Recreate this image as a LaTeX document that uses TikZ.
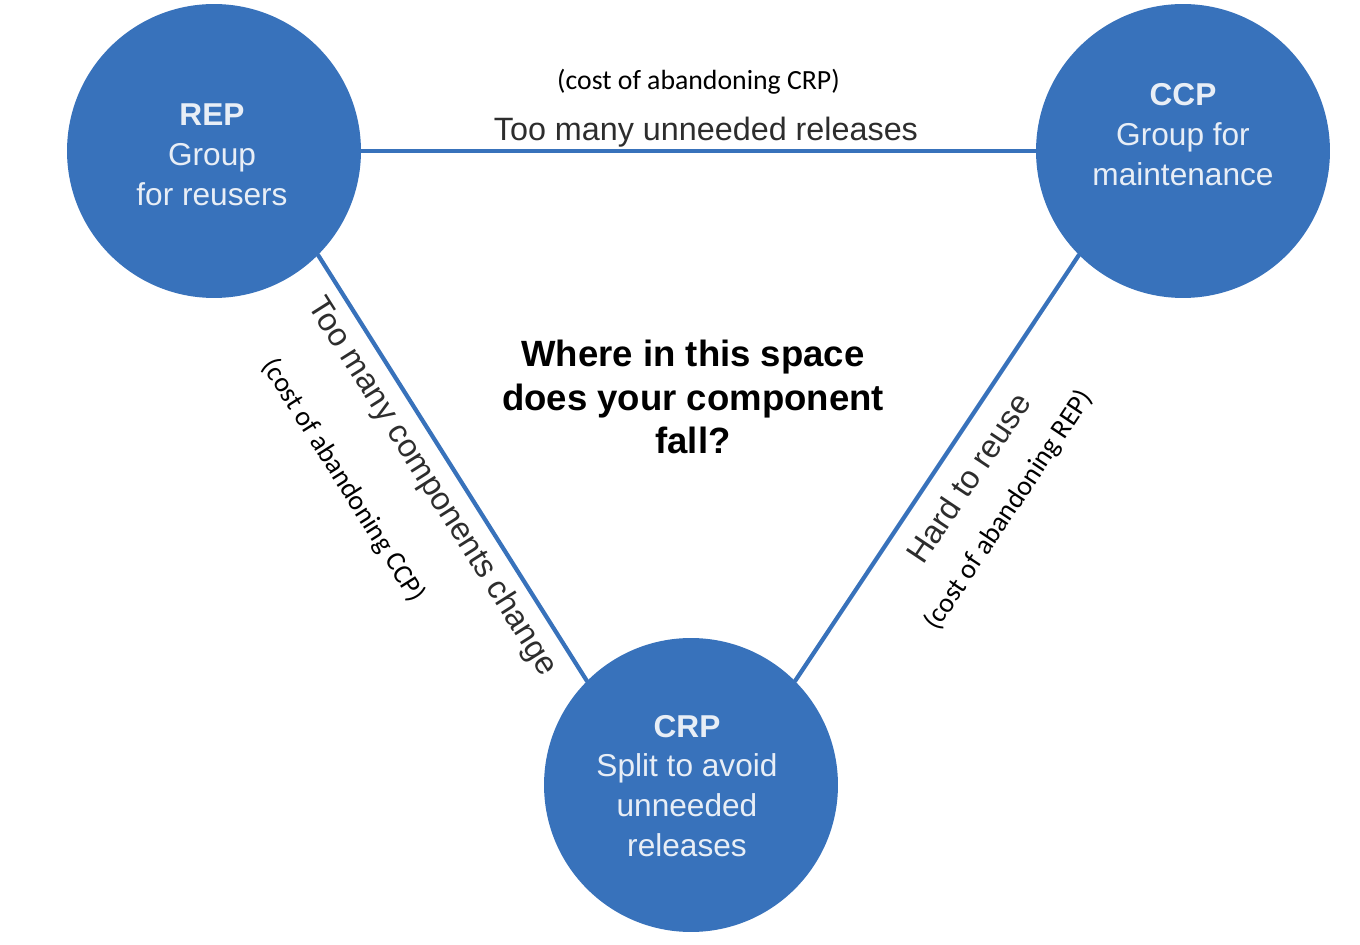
\documentclass[tikz,border=0pt]{standalone}
\usepackage{fontspec}
\setmainfont{Liberation Sans}
\newfontfamily\calfont{Carlito}
\usepackage{tikz}
\usetikzlibrary{calc, positioning}
\definecolor{circblue}{RGB}{56,114,187}
\definecolor{paletext}{RGB}{232,238,246}
\definecolor{darktext}{RGB}{45,45,45}

\begin{document}
\begin{tikzpicture}[x=0.02cm, y=0.02cm, line cap=round, line join=round,
	principle/.style={circle, fill=circblue, minimum size=5.88cm, inner sep=0pt},
	intext/.style={text=paletext, align=center, inner sep=0pt, font=\fontsize{18}{22.7}\selectfont},
	edge/.style={draw=circblue, line width=2.4pt},
	edgetext/.style={text=darktext, inner sep=0pt, font=\fontsize{18.4}{22}\selectfont},
	costtext/.style={inner sep=0pt, font=\calfont\fontsize{15.8}{19}\selectfont}]
	\useasboundingbox (0,0) rectangle (1360,944);

	% the three principles
	\node[principle] (REP) at (214,793) {};
	\node[principle] (CCP) at (1183,793) {};
	\node[principle] (CRP) at (691,159) {};
	\node[intext] (REPtext) at ($(REP)+(-2,-4)$) {\textbf{REP}\\Group\\for reusers};
	\node[intext] (CCPtext) at ($(CCP)+(0,16)$) {\textbf{CCP}\\Group for\\maintenance};
	\node[intext] (CRPtext) at ($(CRP)+(-4,-1)$) {\textbf{CRP}\\Split to avoid\\unneeded\\releases};

	% tension edges with their costs
	\draw[edge] (REP.east) -- (CCP.west)
		node[edgetext, pos=0.511, above=1pt] (relText) {Too many unneeded releases}
		node[costtext, pos=0.5, above=31pt] (relCost) {(cost of abandoning CRP)};
	\draw[edge] (REP.-45) -- (CRP.135)
		node[edgetext, pos=0.51, sloped, below=6pt] (chgText) {Too many components change}
		node[costtext, pos=0.405, sloped, below=48pt] (chgCost) {(cost of abandoning CCP)};
	\draw[edge] (CRP.45) -- (CCP.-135)
		node[edgetext, pos=0.518, sloped, below=10pt] (reuseText) {Hard to reuse}
		node[costtext, pos=0.509, sloped, below=39pt] (reuseCost) {(cost of abandoning REP)};

	% question in the middle
	\node[align=center, font=\bfseries\fontsize{20.8}{25}\selectfont] (question) at (693,547)
		{Where in this space\\does your component\\fall?};
\end{tikzpicture}
\end{document}
